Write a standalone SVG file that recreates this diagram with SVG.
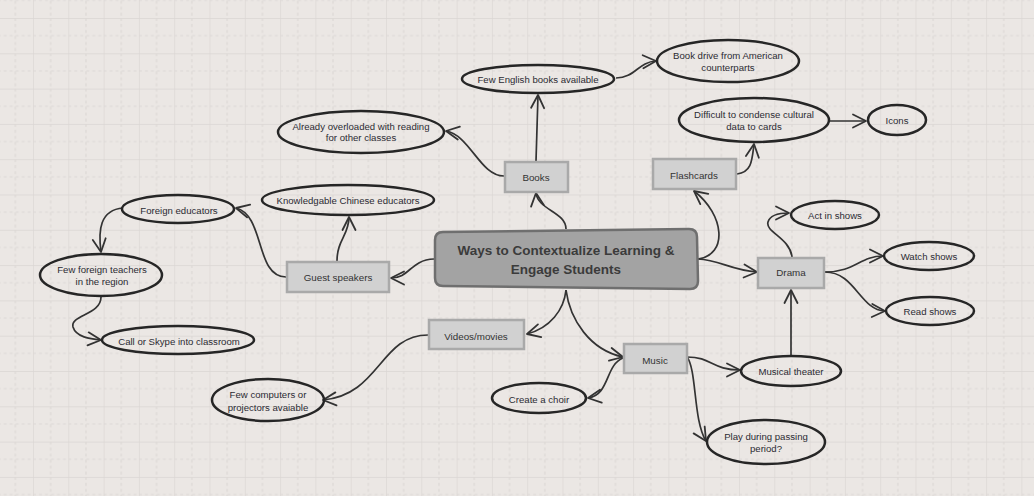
<svg xmlns="http://www.w3.org/2000/svg" width="1034" height="496" viewBox="0 0 1034 496">
<defs>
<pattern id="grid" patternUnits="userSpaceOnUse" x="33" y="18" width="35.3" height="35.3">
<line x1="0" y1="0" x2="0" y2="35.3" stroke="#dad6d3" stroke-width="1.3"/>
<line x1="0" y1="0" x2="35.3" y2="0" stroke="#dad6d3" stroke-width="1.3"/>
<line x1="17.65" y1="0" x2="17.65" y2="35.3" stroke="#dcd8d5" stroke-width="1.2" stroke-dasharray="3,3"/>
<line x1="0" y1="17.65" x2="35.3" y2="17.65" stroke="#dcd8d5" stroke-width="1.2" stroke-dasharray="3,3"/>
</pattern>
<marker id="arr" markerUnits="userSpaceOnUse" viewBox="-16 -10 20 20" refX="0" refY="0" markerWidth="20" markerHeight="20" orient="auto">
<path d="M -13 -6.5 L 0 0 L -13 6.5" fill="none" stroke="#333" stroke-width="1.8" stroke-linejoin="round" stroke-linecap="round"/>
</marker>
<style>
.ell{fill:none;stroke:#262626;stroke-width:2.5}
.box{fill:#d1d1d1;stroke:#a9a9a9;stroke-width:2.5}
.t{font-family:"Liberation Sans",Arial,sans-serif;font-size:9.6px;fill:#2b2b33;text-anchor:middle}
.tb{font-family:"Liberation Sans",Arial,sans-serif;font-size:9.8px;fill:#333;text-anchor:middle}
.c{fill:none;stroke:#333;stroke-width:1.7;marker-end:url(#arr)}
</style>
</defs>
<rect width="1034" height="496" fill="#ebe7e4"/>
<rect width="1034" height="496" fill="url(#grid)"/>

<g id="connectors">
<path class="c" d="M 566 229 C 566 212, 538 210, 536 193"/>
<path class="c" d="M 536 161 L 538 95"/>
<path class="c" d="M 504 176 C 480 176, 470 135, 446 131"/>
<path class="c" d="M 616 78 C 635 78, 638 62, 656 61"/>
<path class="c" d="M 698 259 C 728 255, 725 215, 694 191"/>
<path class="c" d="M 737 174 C 752 172, 752 160, 754 144"/>
<path class="c" d="M 830 121 L 866 121"/>
<path class="c" d="M 698 259 C 720 260, 730 270, 757 272"/>
<path class="c" d="M 792 257 C 790 238, 765 232, 768 222 C 770 215, 780 213, 789 213"/>
<path class="c" d="M 825 272 C 855 272, 860 256, 883 256"/>
<path class="c" d="M 825 272 C 855 272, 860 310, 885 311"/>
<path class="c" d="M 791 355 L 791 290"/>
<path class="c" d="M 687 357 C 712 357, 712 370, 740 370"/>
<path class="c" d="M 687 357 C 697 370, 693 420, 706 441"/>
<path class="c" d="M 566 290 C 570 320, 590 350, 623 357"/>
<path class="c" d="M 623 358 C 605 365, 610 395, 588 398"/>
<path class="c" d="M 566 290 C 564 310, 550 328, 527 334"/>
<path class="c" d="M 428 335 C 380 335, 380 395, 323 400"/>
<path class="c" d="M 434 259 C 410 260, 410 278, 391 278"/>
<path class="c" d="M 337 261 C 337 240, 349 235, 349 217"/>
<path class="c" d="M 286 277 C 255 277, 265 215, 236 208"/>
<path class="c" d="M 123 208 C 100 210, 98 230, 101 252"/>
<path class="c" d="M 101 297 C 101 315, 70 315, 73 327 C 76 337, 90 339, 101 340"/>
</g>

<g id="central">
<path d="M 443 232 L 689 229 Q 697 229 697 237 L 698 281 Q 698 289 690 289 L 443 286 Q 435 286 435 278 L 435 240 Q 435 232 443 232 Z" fill="#a3a3a3" stroke="#6f6f6f" stroke-width="2.5"/>
<text x="566" y="255" font-family="'Liberation Sans',Arial,sans-serif" font-size="13.5" font-weight="bold" fill="#3b3b3b" text-anchor="middle">Ways to Contextualize Learning &amp;</text>
<text x="566" y="274" font-family="'Liberation Sans',Arial,sans-serif" font-size="13.5" font-weight="bold" fill="#3b3b3b" text-anchor="middle">Engage Students</text>
</g>

<g id="books"><rect class="box" x="505" y="162" width="63" height="30"/><text class="tb" x="536" y="180.5">Books</text></g>
<g id="flashcards"><rect class="box" x="653" y="159" width="83" height="30"/><text class="tb" x="694" y="178.5">Flashcards</text></g>
<g id="guest-speakers"><rect class="box" x="287" y="262" width="102" height="30"/><text class="tb" x="338" y="281">Guest speakers</text></g>
<g id="videos"><rect class="box" x="429" y="320" width="95" height="29"/><text class="tb" x="476" y="339.5">Videos/movies</text></g>
<g id="music"><rect class="box" x="624" y="344" width="63" height="29"/><text class="tb" x="655" y="363.5">Music</text></g>
<g id="drama"><rect class="box" x="758" y="258" width="66" height="30"/><text class="tb" x="791" y="276">Drama</text></g>

<g id="few-english"><ellipse class="ell" cx="538" cy="79" rx="76" ry="14"/><text class="t" x="538" y="83">Few English books available</text></g>
<g id="book-drive"><ellipse class="ell" cx="728" cy="61" rx="71" ry="21"/><text class="t" x="728" y="58.5">Book drive from American</text><text class="t" x="728" y="71">counterparts</text></g>
<g id="overloaded"><ellipse class="ell" cx="361" cy="132" rx="83" ry="21"/><text class="t" x="361" y="129.5">Already overloaded with reading</text><text class="t" x="361" y="141">for other classes</text></g>
<g id="difficult"><ellipse class="ell" cx="754" cy="120" rx="75" ry="22"/><text class="t" x="754" y="117.5">Difficult to condense cultural</text><text class="t" x="754" y="130">data to cards</text></g>
<g id="icons"><ellipse class="ell" cx="897" cy="120" rx="29" ry="15"/><text class="t" x="897" y="123.5">Icons</text></g>
<g id="knowledgable"><ellipse class="ell" cx="348" cy="200" rx="86" ry="15"/><text class="t" x="348" y="204">Knowledgable Chinese educators</text></g>
<g id="foreign-educators"><ellipse class="ell" cx="178" cy="209" rx="56" ry="14"/><text class="t" x="179" y="213.5">Foreign educators</text></g>
<g id="few-foreign"><ellipse class="ell" cx="101" cy="275" rx="61" ry="21"/><text class="t" x="102" y="272.5">Few foreign teachers</text><text class="t" x="102" y="285">in the region</text></g>
<g id="call-skype"><ellipse class="ell" cx="178" cy="340" rx="76" ry="14"/><text class="t" x="179" y="344.5">Call or Skype into classroom</text></g>
<g id="few-computers"><ellipse class="ell" cx="268" cy="400" rx="56" ry="21"/><text class="t" x="268" y="397.5">Few computers or</text><text class="t" x="268" y="410.5">projectors avaiable</text></g>
<g id="choir"><ellipse class="ell" cx="539" cy="398" rx="47" ry="15"/><text class="t" x="539" y="402.5">Create a choir</text></g>
<g id="musical-theater"><ellipse class="ell" cx="791" cy="371" rx="50" ry="15"/><text class="t" x="791" y="374.5">Musical theater</text></g>
<g id="play-passing"><ellipse class="ell" cx="766" cy="442" rx="59" ry="22"/><text class="t" x="766" y="439.5">Play during passing</text><text class="t" x="766" y="452">period?</text></g>
<g id="act"><ellipse class="ell" cx="835" cy="215" rx="44" ry="14"/><text class="t" x="835" y="218.5">Act in shows</text></g>
<g id="watch"><ellipse class="ell" cx="929" cy="256" rx="45" ry="14"/><text class="t" x="929" y="259.5">Watch shows</text></g>
<g id="read"><ellipse class="ell" cx="930" cy="311" rx="44" ry="14"/><text class="t" x="930" y="315">Read shows</text></g>
</svg>
